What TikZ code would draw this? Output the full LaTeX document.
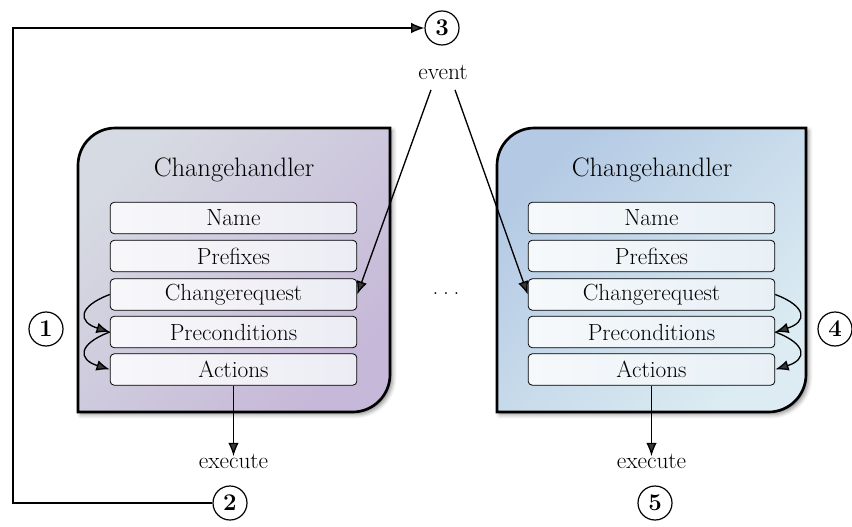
\documentclass[tikz,border=0pt]{standalone}
\usetikzlibrary{arrows.meta,shadows.blur}

\definecolor{lboxA}{RGB}{214,218,226}
\definecolor{lboxB}{RGB}{198,184,216}
\definecolor{rboxA}{RGB}{180,202,228}
\definecolor{rboxB}{RGB}{220,236,242}
\definecolor{lfieldB}{RGB}{236,236,244}
\definecolor{rfieldB}{RGB}{232,240,246}

\tikzset{
  txt/.style={font=\fontsize{17.5}{20}\selectfont, inner sep=1pt},
  titletxt/.style={font=\fontsize{20}{24}\selectfont, inner sep=1pt},
  field/.style={draw, line width=0.6pt, rounded corners=3pt,
    minimum width=185pt, minimum height=23.5pt, inner sep=0pt,
    font=\fontsize{17.5}{20}\selectfont},
  lfield/.style={field, left color=white!60!lfieldB, right color=lfieldB},
  rfield/.style={field, left color=white!60!rfieldB, right color=rfieldB},
  num/.style={circle, draw, line width=0.9pt, minimum size=25.5pt, inner sep=0pt,
    font=\bfseries\fontsize{18}{20}\selectfont},
  conn/.style={line width=1pt, -{Latex[length=10pt,width=8pt]}},
  handler/.style={draw, line width=2pt, shading=axis, shading angle=45,
    blur shadow={shadow xshift=2pt, shadow yshift=-2pt, shadow blur radius=3pt, shadow opacity=45}},
}

\begin{document}
\begin{tikzpicture}[x=0.75pt, y=-0.75pt]
\useasboundingbox (0,0) rectangle (852,527);

% the two change handler containers
\path[handler, top color=lboxA, bottom color=lboxB, shading angle=45]
  (78,412) -- (78,260) {[rounded corners=28pt] -- (78,128) -- (240,128)} -- (390,128)
  -- (390,260) {[rounded corners=28pt] -- (390,412) -- (240,412)} -- cycle;
\path[handler, top color=rboxA, bottom color=rboxB, shading angle=45]
  (497,412) -- (497,260) {[rounded corners=28pt] -- (497,128) -- (650,128)} -- (806,128)
  -- (806,260) {[rounded corners=28pt] -- (806,412) -- (650,412)} -- cycle;

% left handler
\node[titletxt] (ltitle) at (234,170) {Changehandler};
\node[lfield] (lname) at (233.5,218) {Name};
\node[lfield] (lpre)  at (233.5,256) {Prefixes};
\node[lfield] (lcr)   at (233.5,294.5) {Changerequest};
\node[lfield] (lpc)   at (233.5,332) {Preconditions};
\node[lfield] (lact)  at (233.5,369.5) {Actions};

% right handler
\node[titletxt] (rtitle) at (652,170) {Changehandler};
\node[rfield] (rname) at (651.5,218) {Name};
\node[rfield] (rpre)  at (651.5,256) {Prefixes};
\node[rfield] (rcr)   at (651.5,294.5) {Changerequest};
\node[rfield] (rpc)   at (651.5,332) {Preconditions};
\node[rfield] (ract)  at (651.5,369.5) {Actions};

\node[txt] (dots) at (446,294) {.\hspace{3.5pt}.\hspace{3.5pt}.};

% step markers and labels
\node[num] (n3) at (442,28) {3};
\node[txt] (ev) at (443,72) {event};
\node[num] (n1) at (46,329) {1};
\node[num] (n4) at (835,329) {4};
\node[num] (n2) at (230,503) {2};
\node[num] (n5) at (655,503) {5};
\node[txt] (lex) at (233.5,461) {execute};
\node[txt] (rex) at (651.5,461) {execute};

\coordinate (loop) at (13,28);

% feedback loop from execution back to the event
\draw[conn] (n2.west) -| (loop) -- (n3.west);

% event dispatch to the change requests
\draw[conn] ([shift={(-12,9)}]ev.south) -- (lcr.east);
\draw[conn] ([shift={(12,9)}]ev.south) -- (rcr.west);

% evaluation order inside each handler
\draw[conn] (lcr.west) .. controls +(-32,12) and +(-32,-10) .. (lpc.west);
\draw[conn] (lpc.west) .. controls +(-32,12) and +(-32,-10) .. (lact.west);
\draw[conn] (rcr.east) .. controls +(32,12) and +(32,-10) .. (rpc.east);
\draw[conn] (rpc.east) .. controls +(32,12) and +(32,-10) .. (ract.east);

% execution
\draw[conn] (lact.south) -- ([yshift=-3pt]lact.south |- lex.north);
\draw[conn] (ract.south) -- ([yshift=-3pt]ract.south |- rex.north);
\end{tikzpicture}
\end{document}
